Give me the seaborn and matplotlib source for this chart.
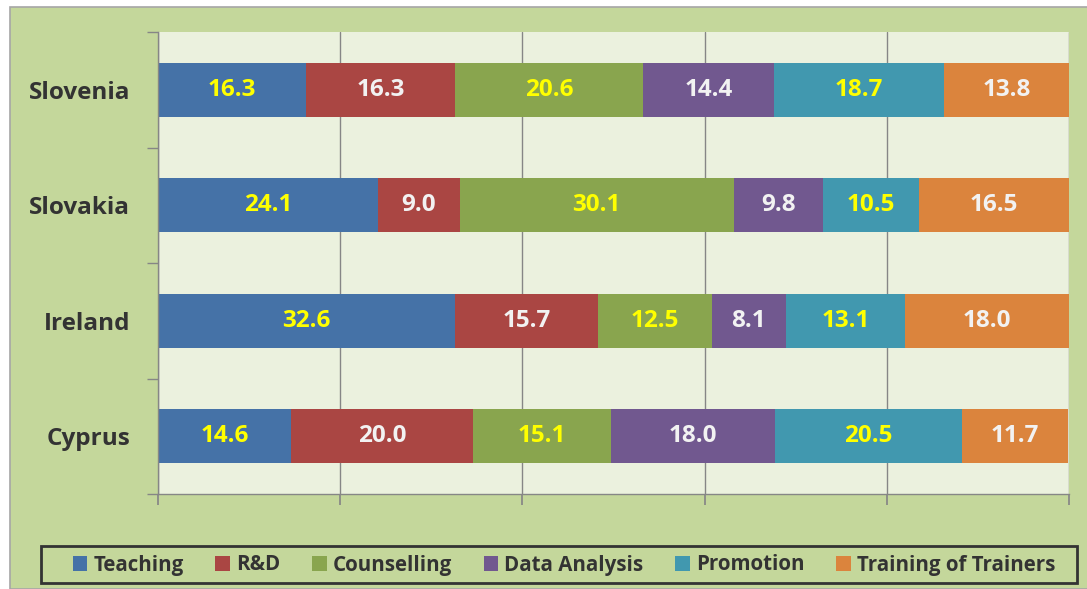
import numpy as np
import pandas as pd
import matplotlib.pyplot as plt
from matplotlib.patches import Rectangle, Patch
import seaborn as sns

# ---------- data ----------
countries = ["Slovenia", "Slovakia", "Ireland", "Cyprus"]
series = ["Teaching", "R&D", "Counselling", "Data Analysis", "Promotion", "Training of Trainers"]
teaching = [16.3, 24.1, 32.6, 14.6]
rnd = [16.3, 9.0, 15.7, 20.0]
counselling = [20.6, 30.1, 12.5, 15.1]
data_analysis = [14.4, 9.8, 8.1, 18.0]
promotion = [18.7, 10.5, 13.1, 20.5]
trainers = [13.8, 16.5, 18.0, 11.7]

colors = ["#4572A7", "#AA4643", "#89A54E", "#71588F", "#4198AF", "#DB843D"]
label_colors = ["#FFFF00", "#F2F2F2", "#FFFF00", "#F2F2F2", "#FFFF00", "#F2F2F2"]

values = pd.DataFrame(
    [teaching, rnd, counselling, data_analysis, promotion, trainers],
    index=series, columns=countries,
).T
cum = values.cumsum(axis=1)

# ---------- style ----------
sns.set_theme(style="white")
plt.rcParams["font.family"] = ["Open Sans", "DejaVu Sans"]
plt.rcParams["font.weight"] = "bold"
text_color = "#333333"
outer_bg = "#C4D79B"
plot_bg = "#EBF1DE"
axis_gray = "#868686"

fig = plt.figure(figsize=(10.87, 5.89), dpi=100, facecolor="white")
W, H = 1087, 589
fig.patches.append(Rectangle((10 / W, 0), 1, 1 - 7 / H, transform=fig.transFigure,
                             facecolor=outer_bg, edgecolor="#A6A6A6", linewidth=1.2, zorder=-10))

ax = fig.add_axes([158 / W, 1 - 494 / H, (1069 - 158) / W, (494 - 32) / H])
ax.set_facecolor(plot_bg)

# stacked bars: draw cumulative totals from the outermost segment inwards
for i in range(len(series) - 1, -1, -1):
    d = pd.DataFrame({"country": countries, "total": cum[series[i]].values})
    sns.barplot(data=d, x="total", y="country", orient="h", color=colors[i],
                saturation=1, width=0.466, linewidth=0, ax=ax, zorder=2)

for i, s in enumerate(series):
    for j, c in enumerate(countries):
        v = values.loc[c, s]
        x = cum.loc[c, s] - v / 2
        ax.text(x, j, f"{v:.1f}", ha="center", va="center", fontsize=17.5,
                fontweight="bold", color=label_colors[i], zorder=5)

ax.set_xlim(0, 100)
ax.set_ylim(3.5, -0.5)
ax.set_xticks(np.arange(0, 101, 20))
ax.set_xticklabels([])
ax.xaxis.grid(True, color=axis_gray, linewidth=1)
ax.set_axisbelow(True)
ax.set_xlabel("")
ax.set_ylabel("")
ax.tick_params(axis="x", direction="out", length=8, color=axis_gray, bottom=True)
ax.set_yticks(range(len(countries)))
ax.set_yticklabels(countries, fontsize=17.5, fontweight="bold", color=text_color)
ax.set_yticks(np.arange(-0.5, 4, 1), minor=True)
ax.tick_params(axis="y", which="major", length=0, pad=20)
ax.tick_params(axis="y", which="minor", direction="out", length=8, color=axis_gray, left=True)
for side in ["top", "right"]:
    ax.spines[side].set_visible(False)
for side in ["left", "bottom"]:
    ax.spines[side].set_color(axis_gray)
    ax.spines[side].set_linewidth(1)

# legend with its own frame
fig.patches.append(Rectangle((41 / W, 1 - 583 / H), (1077 - 41) / W, 37 / H,
                             transform=fig.transFigure, facecolor="none",
                             edgecolor="#333333", linewidth=2))
handles = [Patch(facecolor=c, edgecolor="none") for c in colors]
fig.legend(handles, series, loc="center", bbox_to_anchor=(564 / W, 1 - 565 / H),
           ncol=6, frameon=False, handlelength=0.7, handleheight=0.7,
           handletextpad=0.3, columnspacing=1.55, labelcolor=text_color,
           prop={"weight": "bold", "size": 14.8})

fig.savefig("out.png", dpi=100, facecolor="white")
